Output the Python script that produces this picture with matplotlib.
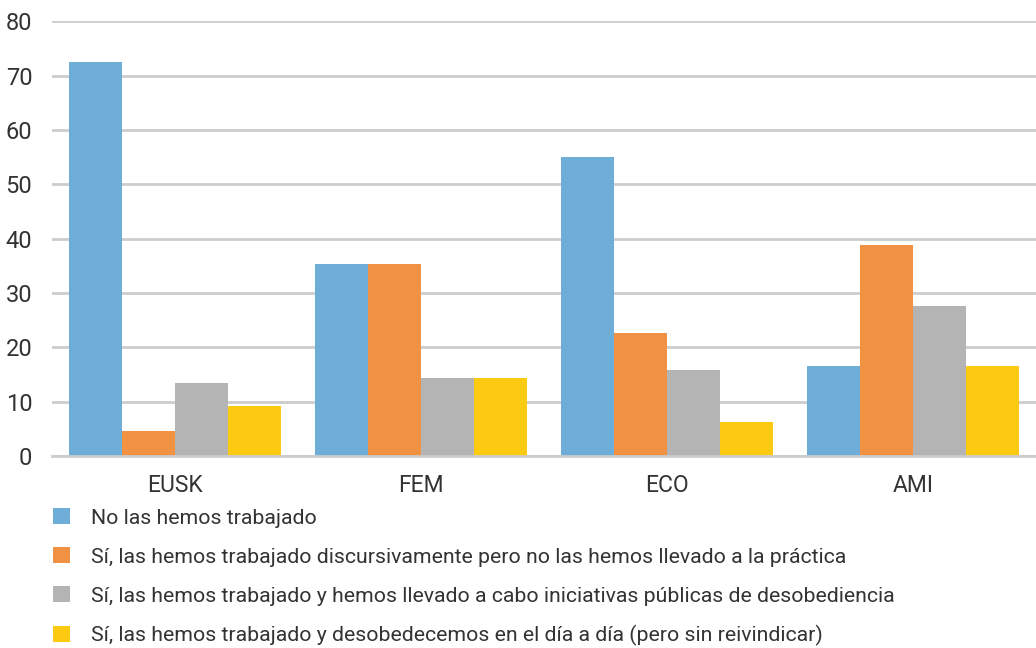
import matplotlib.pyplot as plt
import numpy as np
from matplotlib.patches import Patch

plt.rcParams['font.family'] = ['Roboto', 'DejaVu Sans']

categories = ['EUSK', 'FEM', 'ECO', 'AMI']
series_names = [
    'No las hemos trabajado',
    'Sí, las hemos trabajado discursivamente pero no las hemos llevado a la práctica',
    'Sí, las hemos trabajado y hemos llevado a cabo iniciativas públicas de desobediencia',
    'Sí, las hemos trabajado y desobedecemos en el día a día (pero sin reivindicar)',
]
no_trabajado = [72.6, 35.4, 55.1, 16.6]
discursivo = [4.6, 35.4, 22.7, 38.9]
iniciativas = [13.4, 14.4, 15.8, 27.6]
dia_a_dia = [9.2, 14.4, 6.3, 16.6]
yticks = [0, 10, 20, 30, 40, 50, 60, 70, 80]

colors = ['#6fadd9', '#f09241', '#b4b4b4', '#fdca12']
text_color = '#333333'

fig = plt.figure(figsize=(10.36, 6.48), dpi=100)
ax = fig.add_axes([0.050, 0.296, 0.950, 0.671])

x = np.arange(len(categories))
width = 0.215
all_series = [no_trabajado, discursivo, iniciativas, dia_a_dia]
for i, vals in enumerate(all_series):
    ax.bar(x + (i - 1.5) * width, vals, width, color=colors[i], zorder=3, linewidth=0)

ax.set_xlim(-0.5, len(categories) - 0.5)
ax.set_ylim(0, 80)
ax.set_yticks(yticks)
ax.set_yticklabels([str(t) for t in yticks])
ax.set_xticks(x)
ax.set_xticklabels(categories)
ax.grid(axis='y', color='#cccccc', linewidth=2, zorder=0)
for side in ['top', 'right', 'left']:
    ax.spines[side].set_visible(False)
ax.spines['bottom'].set_color('#cccccc')
ax.spines['bottom'].set_linewidth(2)
ax.spines['bottom'].set_zorder(4)
ax.tick_params(axis='y', length=0, labelsize=17, colors=text_color, pad=14)
ax.tick_params(axis='x', length=0, labelsize=16.5, colors=text_color, pad=13)

handles = [Patch(facecolor=c, edgecolor='none') for c in colors]
fig.legend(handles, series_names, loc='upper left', bbox_to_anchor=(0.051, 0.216),
           frameon=False, fontsize=15.3, handlelength=0.8, handleheight=0.8,
           handletextpad=1.0, labelspacing=0.92, labelcolor=text_color,
           borderpad=0, borderaxespad=0)

fig.savefig('out.png', dpi=100)
